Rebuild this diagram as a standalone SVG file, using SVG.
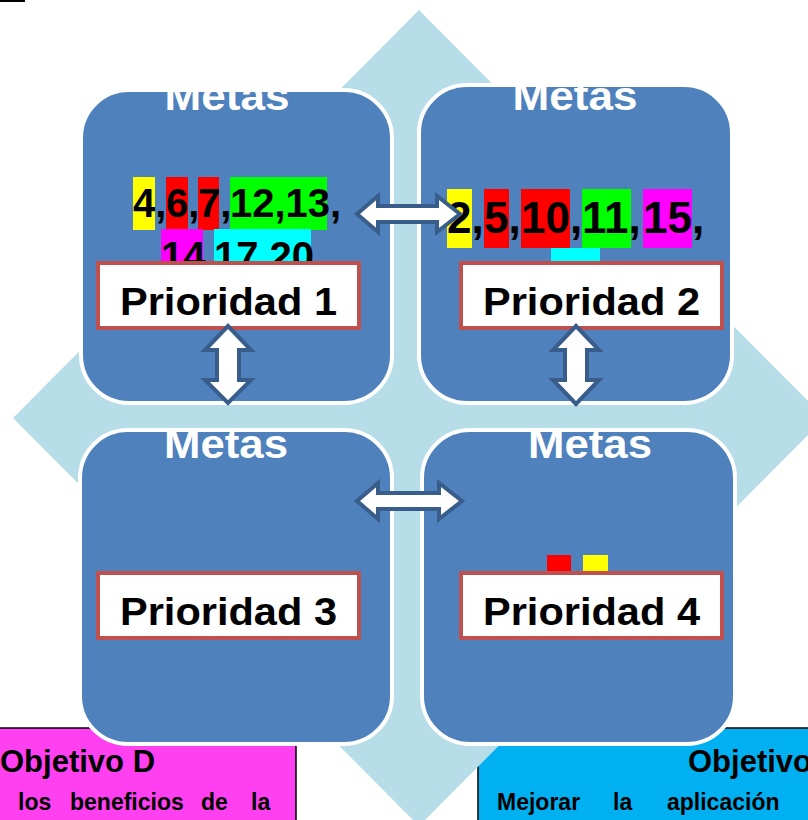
<svg xmlns="http://www.w3.org/2000/svg" width="808" height="820" viewBox="0 0 808 820">
<style>
.box{fill:#4F81BD;stroke:#FFFFFF;stroke-width:4}
.metas{font-family:"Liberation Sans",Arial,sans-serif;font-weight:bold;font-size:40px;fill:#FFFFFF;text-anchor:middle}
.num{font-family:"Liberation Sans",Arial,sans-serif;font-weight:bold;fill:#000000}
.pbox{fill:#FFFFFF;stroke:#C0504D;stroke-width:4}
.ptxt{font-family:"Liberation Sans",Arial,sans-serif;font-weight:bold;font-size:38px;fill:#000000;text-anchor:middle}
.arrow{fill:#FFFFFF;stroke:#385D8A;stroke-width:4;stroke-linejoin:miter}
.obj{font-family:"Liberation Sans",Arial,sans-serif;font-weight:bold;fill:#000000}
</style>
<defs>
<clipPath id="cTL"><rect x="81" y="90" width="311" height="313" rx="48"/></clipPath>
<clipPath id="cTR"><rect x="419" y="85" width="313" height="318" rx="48"/></clipPath>
<clipPath id="cBL"><rect x="80" y="430" width="312" height="314" rx="48"/></clipPath>
<clipPath id="cBR"><rect x="422" y="430" width="313" height="314" rx="48"/></clipPath>
</defs>
<rect x="0" y="0" width="808" height="820" fill="#FFFFFF"/>
<rect x="0" y="0" width="25" height="2" fill="#000000"/>

<g id="objetivo-d">
<rect x="-2" y="728" width="298" height="96" fill="#FF40F0" stroke="#000000" stroke-width="1.5"/>
<text class="obj" x="0" y="772" font-size="31">Objetivo D</text>
<text class="obj" y="810" font-size="23"><tspan x="18">los</tspan><tspan x="70">beneficios</tspan><tspan x="201">de</tspan><tspan x="251">la</tspan></text>
</g>
<g id="objetivo-right">
<rect x="478" y="728" width="334" height="96" fill="#00B0F0" stroke="#000000" stroke-width="1.5"/>
<text class="obj" x="688" y="772" font-size="31">Objetivo</text>
<text class="obj" y="810" font-size="23"><tspan x="497">Mejorar</tspan><tspan x="613">la</tspan><tspan x="667">aplicación</tspan></text>
</g>

<g id="background-diamond">
<polygon points="419,10 825,418 419,826 13,418" fill="#B7DDE8"/>
</g>

<g id="meta-tl">
<rect class="box" x="81" y="90" width="311" height="313" rx="48"/>
<g clip-path="url(#cTL)">
<text class="metas" x="227" y="110" textLength="125" lengthAdjust="spacingAndGlyphs">Metas</text>
<rect x="133" y="177" width="22" height="53" fill="#FFFF00"/>
<rect x="166" y="177" width="22" height="53" fill="#FF0000"/>
<rect x="198" y="177" width="21" height="53" fill="#FF0000"/>
<rect x="230" y="177" width="97" height="53" fill="#00FF00"/>
<rect x="161" y="229" width="42" height="40" fill="#FF00FF"/>
<rect x="214" y="229" width="97" height="40" fill="#00FFFF"/>
<text class="num" font-size="40" y="217"><tspan x="133">4,</tspan><tspan x="166">6,</tspan><tspan x="198">7,</tspan><tspan x="230">12,13,</tspan></text>
<text class="num" font-size="40" y="270"><tspan x="161">14,</tspan><tspan x="214">17,20</tspan></text>
</g>
</g>

<g id="meta-tr">
<rect class="box" x="419" y="85" width="313" height="318" rx="48"/>
<g clip-path="url(#cTR)">
<text class="metas" x="575" y="110" textLength="125" lengthAdjust="spacingAndGlyphs">Metas</text>
<rect x="447" y="189" width="25" height="59" fill="#FFFF00"/>
<rect x="484" y="189" width="25" height="59" fill="#FF0000"/>
<rect x="521" y="189" width="49" height="59" fill="#FF0000"/>
<rect x="582" y="189" width="49" height="59" fill="#00FF00"/>
<rect x="643" y="189" width="49" height="59" fill="#FF00FF"/>
<rect x="551" y="248" width="49" height="20" fill="#00FFFF"/>
<text class="num" font-size="44" y="233"><tspan x="447">2,</tspan><tspan x="484">5,</tspan><tspan x="521">10,</tspan><tspan x="582">11,</tspan><tspan x="643">15,</tspan></text>
</g>
</g>

<g id="meta-bl">
<rect class="box" x="80" y="430" width="312" height="314" rx="48"/>
<g clip-path="url(#cBL)">
<text class="metas" x="226" y="458" textLength="124" lengthAdjust="spacingAndGlyphs">Metas</text>
</g>
</g>

<g id="meta-br">
<rect class="box" x="422" y="430" width="313" height="314" rx="48"/>
<g clip-path="url(#cBR)">
<text class="metas" x="590" y="458" textLength="124" lengthAdjust="spacingAndGlyphs">Metas</text>
<rect x="547" y="555" width="24" height="20" fill="#FF0000"/>
<rect x="583" y="555" width="25" height="20" fill="#FFFF00"/>
</g>
</g>

<g id="prioridad-1">
<rect class="pbox" x="98" y="263" width="261" height="65"/>
<text class="ptxt" x="228.5" y="315" textLength="217" lengthAdjust="spacingAndGlyphs">Prioridad 1</text>
</g>
<g id="prioridad-2">
<rect class="pbox" x="461" y="263" width="261" height="65"/>
<text class="ptxt" x="591.5" y="315" textLength="217" lengthAdjust="spacingAndGlyphs">Prioridad 2</text>
</g>
<g id="prioridad-3">
<rect class="pbox" x="98" y="573" width="261" height="65"/>
<text class="ptxt" x="228.5" y="625" textLength="217" lengthAdjust="spacingAndGlyphs">Prioridad 3</text>
</g>
<g id="prioridad-4">
<rect class="pbox" x="461" y="573" width="261" height="65"/>
<text class="ptxt" x="591.5" y="625" textLength="217" lengthAdjust="spacingAndGlyphs">Prioridad 4</text>
</g>

<g id="connectors">
<polygon class="arrow" points="357,214 378,196 378,206 437,206 437,196 460,214 437,232 437,222 378,222 378,232"/>
<polygon class="arrow" points="357,501 378,483 378,493 439,493 439,483 462,501 439,519 439,509 378,509 378,519"/>
<polygon class="arrow" points="228,326 251,350 239,350 239,380 251,380 228,403 205,380 217,380 217,350 205,350"/>
<polygon class="arrow" points="576,326 599,350 587,350 587,380 599,380 576,404 553,380 565,380 565,350 553,350"/>
</g>
</svg>
